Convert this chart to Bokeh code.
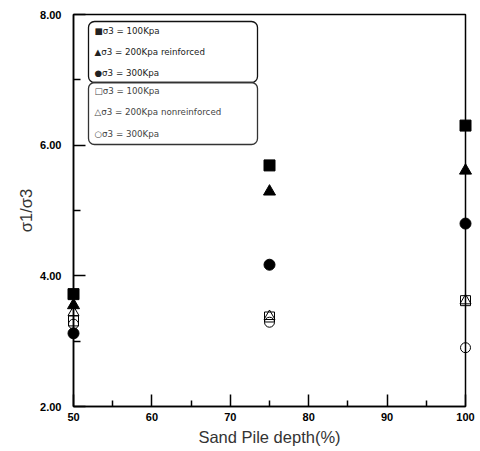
from bokeh.plotting import figure
from bokeh.models import (FixedTicker, NumeralTickFormatter, Range1d,
                          BoxAnnotation, Label)
from bokeh.embed import file_html
from bokeh.resources import INLINE

# Sand pile depth (%) and principal stress ratio sigma1/sigma3
depth = [50, 75, 100]
reinforced_100 = [3.72, 5.69, 6.30]
reinforced_200 = [3.55, 5.29, 5.61]
reinforced_300 = [3.12, 4.17, 4.80]
nonreinforced_100 = [3.31, 3.37, 3.62]
nonreinforced_200 = [3.44, 3.38, 3.62]
nonreinforced_300 = [3.26, 3.29, 2.90]

x_ticks = [50, 60, 70, 80, 90, 100]
x_minor = [55, 65, 75, 85, 95]
y_ticks = [2, 4, 6, 8]
y_minor = [3, 5, 7]

legend_reinforced = ["■σ3 = 100Kpa", "▲σ3 = 200Kpa reinforced", "●σ3 = 300Kpa"]
legend_nonreinforced = ["□σ3 = 100Kpa", "△σ3 = 200Kpa nonreinforced", "○σ3 = 300Kpa"]

X0, X1, Y0, Y1 = 50, 100, 2, 8
FRAME = 392

p = figure(width=480, height=451, output_backend="svg", toolbar_location=None,
           x_range=Range1d(X0, X1), y_range=Range1d(Y0, Y1),
           min_border_left=73, min_border_right=15,
           min_border_top=14, min_border_bottom=45)
p.xgrid.visible = False
p.ygrid.visible = False
p.outline_line_color = "black"
p.outline_line_width = 1.5
p.background_fill_color = "white"
p.border_fill_color = "white"

p.xaxis.ticker = FixedTicker(ticks=x_ticks, minor_ticks=x_minor)
p.yaxis.ticker = FixedTicker(ticks=y_ticks, minor_ticks=y_minor)
p.yaxis.formatter = NumeralTickFormatter(format="0.00")

for ax in (p.xaxis, p.yaxis):
    ax.axis_line_color = "black"
    ax.axis_line_width = 1.5
    ax.major_tick_line_color = "black"
    ax.major_tick_line_width = 1.5
    ax.minor_tick_line_color = "black"
    ax.minor_tick_line_width = 1.5
    ax.major_tick_in = 12
    ax.major_tick_out = 0
    ax.major_label_text_font = "Liberation Sans"
    ax.major_label_text_font_size = "11px"
    ax.major_label_text_font_style = "bold"
    ax.major_label_text_color = "black"
    ax.axis_label_text_font = "Liberation Sans"
    ax.axis_label_text_font_size = "16.5px"
    ax.axis_label_text_font_style = "normal"
    ax.axis_label_text_color = "#333333"

p.xaxis.minor_tick_in = 6
p.xaxis.minor_tick_out = 0
p.yaxis.minor_tick_in = 7
p.yaxis.minor_tick_out = 0
p.xaxis.major_label_standoff = 6
p.yaxis.major_label_standoff = 12
p.xaxis.axis_label = "Sand Pile depth(%)"
p.yaxis.axis_label = "σ1/σ3"
p.xaxis.axis_label_standoff = 4
p.yaxis.axis_label_standoff = 2

# reinforced series: filled markers
p.scatter(depth, reinforced_100, marker="square", size=11, color="black", level="overlay")
p.scatter(depth, reinforced_200, marker="triangle", size=12, color="black", level="overlay")
p.scatter(depth, reinforced_300, marker="circle", size=11, color="black", level="overlay")
# non-reinforced series: open markers
p.scatter(depth, nonreinforced_100, marker="square", size=10, fill_color=None,
          line_color="black", line_width=1, level="overlay")
p.scatter(depth, nonreinforced_200, marker="triangle", size=11, fill_color=None,
          line_color="black", line_width=1, level="overlay")
p.scatter(depth, nonreinforced_300, marker="circle", size=10, fill_color=None,
          line_color="black", line_width=1, level="overlay")


def fx(px):
    """Horizontal offset in pixels from the frame's left edge -> data x."""
    return X0 + px / FRAME * (X1 - X0)


def fy(px):
    """Vertical offset in pixels from the frame's top edge -> data y."""
    return Y1 - px / FRAME * (Y1 - Y0)


# two rounded legend boxes in the upper-left corner
p.add_layout(BoxAnnotation(left=fx(15), right=fx(184), top=fy(7), bottom=fy(68),
                           fill_alpha=0, line_color="#111111", line_alpha=1,
                           line_width=1.3, border_radius=6, level="overlay"))
p.add_layout(BoxAnnotation(left=fx(15), right=fx(184), top=fy(68), bottom=fy(130),
                           fill_alpha=0, line_color="#333333", line_alpha=1,
                           line_width=1.3, border_radius=6, level="overlay"))

for i, txt in enumerate(legend_reinforced + legend_nonreinforced):
    ypx = [16, 37.5, 58, 76, 97.5, 119.5][i]
    p.add_layout(Label(x=fx(21), y=fy(ypx), text=txt, text_font="DejaVu Sans",
                       text_font_size="8.7px", text_baseline="middle",
                       text_color="#222222" if i < 3 else "#444444"))

open("out.html", "w").write(file_html(p, INLINE))
